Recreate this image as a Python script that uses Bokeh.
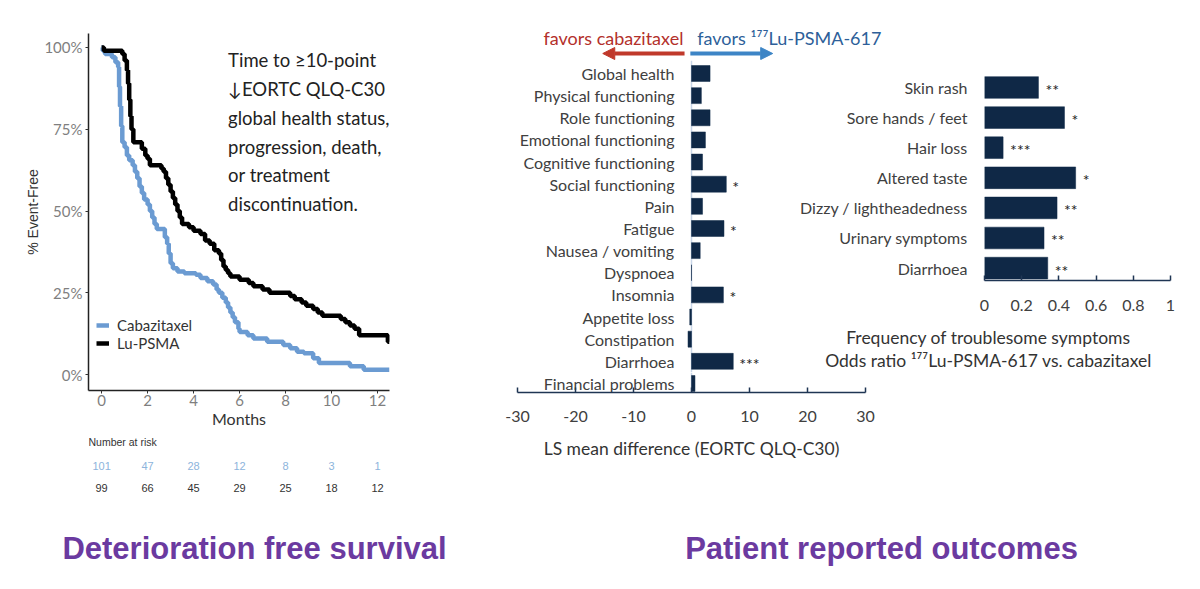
from bokeh.plotting import figure
from bokeh.layouts import column, row
from bokeh.models import (Range1d, FixedTicker, PrintfTickFormatter, NumeralTickFormatter,
                          CustomJSTickFormatter, Legend, LegendItem, Label, Arrow,
                          NormalHead, Span)
from bokeh.core.properties import value
from bokeh.embed import file_html
from bokeh.resources import INLINE

# ---------------- data ----------------
# Deterioration-free survival, step curves (months, % event-free)
cab_t = [0, 0.05, 0.15, 0.45, 0.6, 0.72, 0.76, 0.8, 0.85, 0.9,
         1.0, 1.1, 1.2, 1.35, 1.45, 1.55, 1.65, 1.75, 1.85, 2.0,
         2.1, 2.2, 2.3, 2.4, 2.75, 2.85, 2.92, 3.0, 3.1, 3.3,
         3.6, 4.1, 4.3, 4.6, 4.85, 5.0, 5.1, 5.25, 5.4, 5.5,
         5.6, 5.7, 5.8, 5.95, 6.0, 6.35, 6.6, 7.2, 7.9, 8.2,
         8.5, 8.8, 9.2, 9.45, 10.8, 11.4, 12.52]
cab_s = [100, 99, 98, 97, 95.5, 94, 88, 82, 76, 71,
         69.5, 67, 65.5, 64, 62, 60, 57.5, 55.5, 53.5, 52,
         50, 48, 46, 44.5, 42, 40, 37, 34, 32.5, 31.5,
         31, 30.5, 29.5, 28.5, 27.5, 26, 25, 23.5, 22, 20.5,
         19, 17.5, 16, 14, 13, 12, 11, 10, 9, 8,
         7, 6.5, 5, 3.5, 2.5, 1.5, 1.5]

lu_t = [0, 0.1, 0.9, 1.0, 1.1, 1.15, 1.2, 1.25, 1.3, 1.38,
        1.75, 1.9, 2.0, 2.1, 2.6, 2.7, 2.8, 2.9, 3.0, 3.1,
        3.2, 3.3, 3.4, 3.5, 3.8, 4.0, 4.3, 4.5, 4.7, 4.9,
        5.1, 5.2, 5.3, 5.4, 5.5, 5.6, 6.0, 6.4, 6.6, 7.0,
        7.3, 8.2, 8.4, 8.7, 8.9, 9.2, 9.4, 9.6, 10.4, 10.6,
        10.8, 11.0, 11.2, 12.45, 12.52]
lu_s = [100, 99, 98, 96, 93, 89, 84, 79, 75, 71,
        69, 67, 66, 64, 63, 62, 60, 58, 56, 54,
        52, 50, 48, 46, 45, 44, 43, 41, 40, 38,
        37, 35, 33, 32, 31, 30, 29, 28, 27, 26,
        25, 24, 23, 22, 21, 20, 19, 18, 17, 16,
        15, 14, 12, 10, 10]

risk_times = [0, 2, 4, 6, 8, 10, 12]
risk_cab = [101, 47, 28, 12, 8, 3, 1]
risk_lu = [99, 66, 45, 29, 25, 18, 12]

# EORTC QLQ-C30 LS mean differences
pro_domains = ["Global health", "Physical functioning", "Role functioning",
               "Emotional functioning", "Cognitive functioning", "Social functioning",
               "Pain", "Fatigue", "Nausea / vomiting", "Dyspnoea", "Insomnia",
               "Appetite loss", "Constipation", "Diarrhoea", "Financial problems"]
pro_diff = [3.2, 1.7, 3.2, 2.4, 1.9, 6.0, 1.9, 5.6, 1.5, 0.0, 5.5, -0.3, -0.6, 7.2, 0.6]
pro_sig = ["", "", "", "", "", "*", "", "*", "", "", "*", "", "", "***", ""]

# Troublesome symptoms, odds ratios
sym_names = ["Skin rash", "Sore hands / feet", "Hair loss", "Altered taste",
             "Dizzy / lightheadedness", "Urinary symptoms", "Diarrhoea"]
sym_or = [0.29, 0.43, 0.10, 0.49, 0.39, 0.32, 0.34]
sym_sig = ["**", "*", "***", "*", "**", "**", "**"]

# ---------------- styles ----------------
FONT = "Lato"
BLUE = "#6b9bd2"
RISK_BLUE = "#8db4dc"
NAVY = "#0f2846"
AXIS_NAVY = "#1f3553"
TXT = "#404040"
RED = "#c0392b"
RED_TXT = "#b3302b"
ARROW_BLUE = "#3d85c6"
BLUE_TXT = "#2e5f99"
ZERO = "#c9d6e8"
PURPLE = "#6b3aa0"


def panel(**kw):
    p = figure(output_backend="svg", toolbar_location=None, frame_align=False, **kw)
    p.toolbar.logo = None
    p.outline_line_color = None
    p.background_fill_color = "white"
    p.border_fill_color = "white"
    p.grid.visible = False
    return p


# ---------------- Kaplan-Meier panel ----------------
km_x = Range1d(-0.57, 12.52)
km = panel(width=480, height=430, x_range=km_x, y_range=Range1d(-4.88, 104.27),
           min_border_left=88, min_border_right=91, min_border_top=33,
           min_border_bottom=39)
r_cab = km.step(cab_t, cab_s, mode="after", line_color=BLUE, line_width=4.5)
r_lu = km.step(lu_t, lu_s, mode="after", line_color="black", line_width=4.5)

for ax in (km.xaxis[0], km.yaxis[0]):
    ax.axis_line_color = "#222222"
    ax.axis_line_width = 1.5
    ax.major_tick_line_color = "#333333"
    ax.major_tick_in = 0
    ax.major_tick_out = 3
    ax.minor_tick_line_color = None
    ax.major_label_text_font = FONT
    ax.major_label_text_font_size = "15px"
    ax.major_label_text_color = "#7f7f7f"
    ax.axis_label_text_font_style = "normal"

km.xaxis.ticker = FixedTicker(ticks=risk_times)
km.xaxis.major_label_standoff = 1
km.xaxis.axis_label = "Months"
km.xaxis.axis_label_text_font = FONT
km.xaxis.axis_label_text_font_size = "16px"
km.xaxis.axis_label_text_color = "#333333"
km.xaxis.axis_label_standoff = 0

km.yaxis.ticker = FixedTicker(ticks=[0, 25, 50, 75, 100])
km.yaxis.formatter = PrintfTickFormatter(format="%d%%")
km.yaxis.major_label_standoff = 3
km.yaxis.axis_label = "% Event-Free"
km.yaxis.axis_label_text_font = "Liberation Sans"
km.yaxis.axis_label_text_font_size = "14px"
km.yaxis.axis_label_text_color = "#333333"
km.yaxis.axis_label_standoff = 0

legend = Legend(items=[LegendItem(label="Cabazitaxel", renderers=[r_cab]),
                       LegendItem(label="Lu-PSMA", renderers=[r_lu])],
                location=(8, 38), padding=0, margin=0, spacing=0,
                glyph_width=13, glyph_height=16, label_height=16, label_standoff=8,
                label_text_font=FONT, label_text_font_size="15px",
                label_text_color="#333333",
                border_line_color=None, background_fill_alpha=0)
km.add_layout(legend)

km.add_layout(Label(x=5.5, y=99.5,
                    text="Time to \u226510-point\n\u2193EORTC QLQ-C30\nglobal health status,\n"
                         "progression, death,\nor treatment\ndiscontinuation.",
                    text_font=FONT, text_font_size="18.5px", text_color="#222222",
                    text_baseline="top", text_align="left", text_line_height=1.31))

# number at risk table, sharing the month scale
risk = panel(width=480, height=70, x_range=km_x, y_range=Range1d(1.59, -1.59),
             x_axis_location=None, y_axis_location=None,
             min_border_left=88, min_border_right=91, min_border_top=0,
             min_border_bottom=0)
risk.text(x=risk_times, y=[0] * len(risk_times), text=[str(v) for v in risk_cab],
          text_font=value("Liberation Sans"), text_font_size="11px", text_color=RISK_BLUE,
          text_align="center", text_baseline="middle")
risk.text(x=risk_times, y=[1] * len(risk_times), text=[str(v) for v in risk_lu],
          text_font=value("Liberation Sans"), text_font_size="11px", text_color="#333333",
          text_align="center", text_baseline="middle")
risk.text(x=[km_x.start], y=[-1.09], text=["Number at risk"],
          text_font=value("Liberation Sans"), text_font_size="10.5px", text_color="#333333",
          text_align="left", text_baseline="middle")

# ---------------- QLQ-C30 panel ----------------
PX_PER_UNIT = 5.8
header = panel(width=720, height=60,
               x_range=Range1d(-30, -30 + 683 / PX_PER_UNIT), y_range=Range1d(60, 0),
               x_axis_location=None, y_axis_location=None,
               min_border_left=37, min_border_right=0, min_border_top=0,
               min_border_bottom=0)
header.add_layout(Arrow(end=NormalHead(size=12, fill_color=RED, line_color=RED),
                        x_start=-1.2, y_start=53, x_end=-15.3, y_end=53,
                        line_color=RED, line_width=4))
header.add_layout(Arrow(end=NormalHead(size=12, fill_color=ARROW_BLUE, line_color=ARROW_BLUE),
                        x_start=-0.2, y_start=53, x_end=14.0, y_end=53,
                        line_color=ARROW_BLUE, line_width=4))
header.text(x=[-1.4], y=[37], text=["favors cabazitaxel"], text_font=value(FONT),
            text_font_size="18px", text_color=RED_TXT, text_align="right",
            text_baseline="middle")
header.text(x=[1.0], y=[37], text=["favors \u00b9\u2077\u2077Lu-PSMA-617"], text_font=value(FONT),
            text_font_size="18px", text_color=BLUE_TXT, text_align="left",
            text_baseline="middle")

pro_y = list(range(len(pro_domains)))
pro_right = [max(v, 0) for v in pro_diff]


def draw_rows(p, rows):
    """Zero line, bars, domain names and significance marks for the given QLQ-C30 rows."""
    p.add_layout(Span(location=0, dimension="height", line_color=ZERO, line_width=1.5,
                      level="underlay"))
    ys = [pro_y[i] for i in rows]
    p.hbar(y=ys, left=0, right=[pro_diff[i] for i in rows], height=0.72,
           fill_color=NAVY, line_color=NAVY, line_width=0.5)
    p.text(x=[0] * len(ys), y=ys, text=[pro_domains[i] for i in rows], x_offset=-17,
           text_font=value(FONT), text_font_size="16px", text_color=TXT,
           text_align="right", text_baseline="middle")
    p.text(x=[pro_right[i] for i in rows], y=ys, text=[pro_sig[i] for i in rows],
           x_offset=6, y_offset=2,
           text_font=value(FONT), text_font_size="16px", text_color="#222222",
           text_align="left", text_baseline="middle")


# all rows but the last one
bars = panel(width=317, height=312,
             x_range=Range1d(-30, -30 + 280 / PX_PER_UNIT),
             y_range=Range1d(13.505, -0.587),
             x_axis_location=None, y_axis_location=None,
             min_border_left=37, min_border_right=0, min_border_top=0,
             min_border_bottom=0)
draw_rows(bars, pro_y[:-1])

# last row plus the LS-mean axis
axisfig = panel(width=720, height=128, x_range=Range1d(-30, 30),
                y_range=Range1d(14.409, 13.505), y_axis_location=None,
                min_border_left=37, min_border_right=335, min_border_top=0,
                min_border_bottom=108)
draw_rows(axisfig, pro_y[-1:])
ax = axisfig.xaxis[0]
ax.ticker = FixedTicker(ticks=[-30, -20, -10, 0, 10, 20, 30])
ax.formatter = PrintfTickFormatter(format="%d")
ax.axis_line_color = AXIS_NAVY
ax.axis_line_width = 1.5
ax.major_tick_line_color = AXIS_NAVY
ax.major_tick_line_width = 1.5
ax.major_tick_in = 5
ax.major_tick_out = 0
ax.minor_tick_line_color = None
ax.major_label_standoff = 18
ax.major_label_text_font = FONT
ax.major_label_text_font_size = "16px"
ax.major_label_text_color = TXT
ax.axis_label = "LS mean difference (EORTC QLQ-C30)"
ax.axis_label_text_font = FONT
ax.axis_label_text_font_size = "17.5px"
ax.axis_label_text_font_style = "normal"
ax.axis_label_text_color = "#333333"
ax.axis_label_standoff = 13

# ---------------- symptom odds-ratio panel ----------------
sym_y = list(range(len(sym_names)))
sym = panel(width=403, height=260, x_range=Range1d(0, 1),
            y_range=Range1d(6.412, -0.897),
            min_border_left=186, min_border_right=30, min_border_top=0,
            min_border_bottom=40)
sym.hbar(y=sym_y, left=0, right=sym_or, height=0.72, fill_color=NAVY, line_color=NAVY,
         line_width=0.5)
sym.text(x=sym_or, y=sym_y, text=sym_sig, x_offset=7, y_offset=2,
         text_font=value(FONT), text_font_size="16px", text_color="#222222",
         text_align="left", text_baseline="middle")

sx = sym.xaxis[0]
sx.ticker = FixedTicker(ticks=[0, 0.2, 0.4, 0.6, 0.8, 1.0])
sx.formatter = NumeralTickFormatter(format="0.[0]")
sx.axis_line_color = AXIS_NAVY
sx.axis_line_width = 1.5
sx.major_tick_line_color = AXIS_NAVY
sx.major_tick_line_width = 1.5
sx.major_tick_in = 5
sx.major_tick_out = 0
sx.minor_tick_line_color = None
sx.major_label_standoff = 19
sx.major_label_text_font = FONT
sx.major_label_text_font_size = "16px"
sx.major_label_text_color = TXT

sy = sym.yaxis[0]
sy.ticker = FixedTicker(ticks=sym_y)
sy.formatter = CustomJSTickFormatter(args=dict(names=sym_names),
                                     code="return names[Math.round(tick)] || ''")
sy.axis_line_color = None
sy.major_tick_line_color = None
sy.minor_tick_line_color = None
sy.major_tick_in = 0
sy.major_tick_out = 0
sy.major_label_standoff = 17
sy.major_label_text_font = FONT
sy.major_label_text_font_size = "16px"
sy.major_label_text_color = TXT

# two-line caption under the odds-ratio axis (page pixel coordinates)
caption = panel(width=403, height=52, x_range=Range1d(797, 1200), y_range=Range1d(372, 320),
                x_axis_location=None, y_axis_location=None,
                min_border_left=0, min_border_right=0, min_border_top=0,
                min_border_bottom=0)
caption.text(x=[988, 988], y=[337, 360],
             text=["Frequency of troublesome symptoms",
                   "Odds ratio \u00b9\u2077\u2077Lu-PSMA-617 vs. cabazitaxel"],
             text_font=value(FONT), text_font_size="17.5px", text_color="#333333",
             text_align="center", text_baseline="middle")

# ---------------- section titles ----------------
titles = panel(width=1200, height=89, x_range=Range1d(0, 1200), y_range=Range1d(89, 0),
               x_axis_location=None, y_axis_location=None,
               min_border_left=0, min_border_right=0, min_border_top=0,
               min_border_bottom=0)
titles.text(x=[254, 881], y=[48, 48],
            text=["Deterioration free survival", "Patient reported outcomes"],
            text_font=value("Liberation Sans"), text_font_style="bold",
            text_font_size="31px", text_color=PURPLE,
            text_align="center", text_baseline="middle")

left = column(km, risk, spacing=0)
right = column(header, row(bars, column(sym, caption, spacing=0), spacing=0), axisfig,
               spacing=0)
page = column(row(left, right, spacing=0), titles, spacing=0)

with open("out.html", "w") as f:
    f.write(file_html(page, INLINE))
